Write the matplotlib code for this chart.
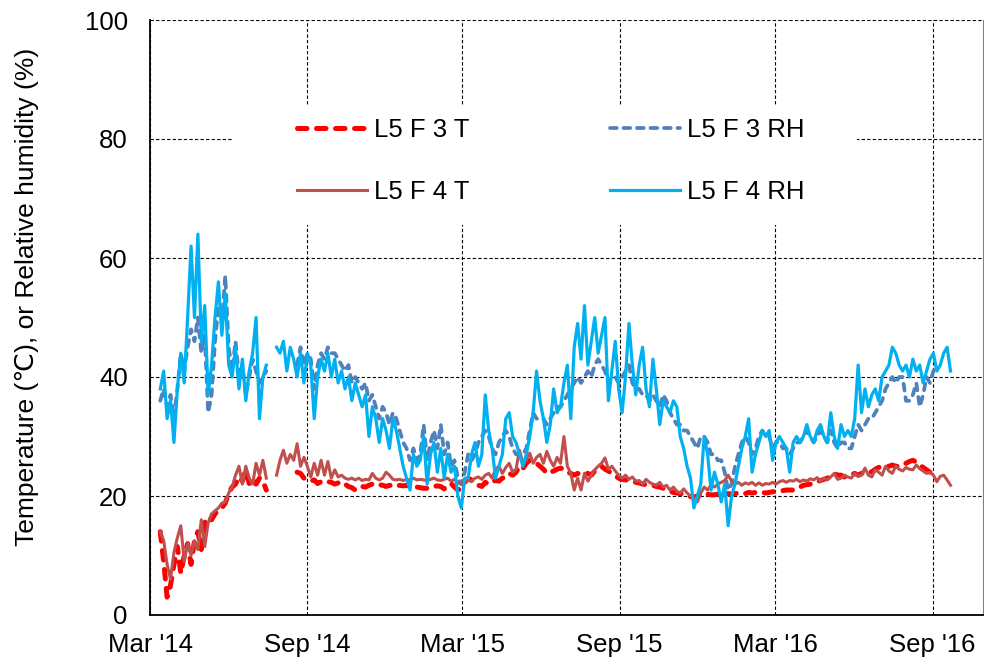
import numpy as np
import pandas as pd
import matplotlib
matplotlib.use('Agg')
import matplotlib.pyplot as plt
import matplotlib.dates as mdates
from matplotlib.patches import Rectangle

plt.rcParams['font.family'] = ['Liberation Sans', 'DejaVu Sans']

nan = np.nan
start = '2014-03-13'   # readings every 4 days

f3_t = [14.0, 9.0, 3.0, 5.0, 8.5, 11.5, 7.0, 10.0, 12.0, 8.5,
        12.5, 14.0, 11.0, 15.5, 16.5, 16.0, 17.0, 17.6, 18.0, 18.8,
        20.5, 21.5, 22.0, 23.2, 22.5, 24.4, 22.1, 23.0, 22.0, 23.0,
        22.5, 21.0, nan, nan, nan, nan, nan, nan, nan, nan,
        24.0, 23.8, 23.0, 22.8, 22.5, 22.7, 22.1, 22.4, 22.2, 22.4,
        22.3, 22.0, 22.2, 21.8, 22.0, 21.6, 21.4, 21.0, 21.2, 21.6,
        21.5, 21.8, 22.0, 22.1, 21.9, 21.8, 21.6, 21.8, 21.7, 21.6,
        21.8, 21.7, 21.8, 21.6, 21.8, 21.5, 21.4, 21.3, 21.3, 21.5,
        21.6, 21.7, 21.6, 21.2, 21.8, 22.1, 21.5, 21.0, 21.3, 22.3,
        23.0, 22.7, 22.5, 21.8, 21.6, 22.3, 22.0, 22.4, 22.6, 22.5,
        23.0, 23.2, 23.8, 23.5, 24.0, 25.0, 24.6, 25.5, 26.0, 25.8,
        25.5, 25.0, 24.5, 23.8, 24.0, 24.2, 24.5, 24.7, 24.5, 24.0,
        23.8, 23.5, 23.8, 23.5, 23.6, 23.8, 23.5, 24.2, 24.8, 25.0,
        24.5, 24.2, 23.8, 23.4, 23.0, 22.8, 22.7, 22.6, 22.5, 22.3,
        22.2, 22.0, 21.9, 21.8, 21.8, 21.6, 21.5, 21.3, 21.0, 20.8,
        20.6, 20.5, 20.4, 20.3, 20.1, 19.9, 19.8, 20.0, 20.2, 20.5,
        20.3, 20.2, 20.2, 20.3, 20.2, 20.3, 20.4, 20.3, 20.4, 20.5,
        20.5, 20.4, 20.6, 20.5, 20.6, 20.5, 20.6, 20.5, 20.6, 20.7,
        20.8, 20.8, 20.9, 21.0, 21.0, 21.0, 21.2, 21.5, 21.8, 21.9,
        22.0, 22.2, 22.4, 22.6, 22.8, 23.0, 23.2, 23.8, 23.5, 23.5,
        23.2, 23.4, 23.6, 23.8, 23.5, 23.8, 24.0, 24.2, 24.0, 24.5,
        24.8, 25.0, 24.8, 25.0, 25.2, 25.0, 25.0, 25.3, 25.5, 25.8,
        26.0, 25.7, 25.2, 24.8, 24.4, 24.0, 23.8, nan, nan, nan,
        nan, nan]

f3_rh = [36, 38, 35, 37, 33, 38, 44, 41, 45, 48,
         46, 50, 44, 47, 34, 37, 46, 52, 49, 57,
         45, 41, 46, 40, 42, 37, 40, 43, 41, 39,
         40, 41, nan, nan, nan, nan, nan, nan, nan, nan,
         42, 45, 42, 44, 43, 38, 42, 44, 43, 45,
         44, 44, 43, 42, 41, 42, 39, 40, 39, 38,
         39, 36, 37, 35, 33, 35, 34, 32, 34, 33,
         31, 29, 28, 26, 28, 26, 27, 32, 26, 29,
         31, 28, 32, 27, 29, 25, 26, 23, 22, 24,
         27, 26, 27, 29, 30, 31, 30, 28, 27, 29,
         30, 31, 30, 28, 27, 27, 27, 28, 31, 34,
         33, 33, 33, 32, 33, 34, 35, 35, 36, 37,
         38, 39, 40, 39, 40, 41, 40, 42, 43, 42,
         41, 39, 40, 40, 39, 40, 41, 42, 39, 38,
         38, 37, 37, 36, 37, 36, 35, 37, 36, 34,
         33, 32, 32, 31, 31, 30, 29, 28, 30, 30,
         29, 27, 27, 26, 26, 24, 21, 22, 25, 27,
         29, 30, 29, 27, 28, 30, 31, 30, 30, 28,
         29, 29, 28, 28, 27, 28, 29, 29, 30, 31,
         30, 29, 30, 31, 30, 29, 31, 29, 28, 29,
         29, 28, 28, 30, 32, 31, 32, 33, 33, 34,
         35, 36, 38, 39, 40, 39, 40, 40, 36, 36,
         37, 39, 35, 37, 40, 39, 41, 42, nan, nan,
         nan, nan]

f4_t = [14.0, 12.5, 8.5, 6.0, 10.5, 13.0, 15.0, 9.0, 12.0, 10.0,
        12.5, 11.0, 16.0, 11.5, 15.5, 17.0, 17.5, 18.0, 18.8, 19.0,
        20.5, 21.5, 23.5, 25.0, 22.0, 25.0, 23.0, 22.0, 25.5, 23.5,
        26.0, 23.0, nan, nan, 23.5, 26.0, 27.7, 25.5, 27.0, 26.0,
        28.8, 25.0, 26.5, 25.0, 23.2, 25.5, 23.5, 26.0, 23.5, 25.8,
        23.0, 24.4, 23.2, 23.5, 23.0, 22.8, 23.0, 22.7, 23.0, 22.6,
        22.8, 22.7, 23.8, 23.0, 22.7, 23.0, 24.0, 23.5, 22.8, 22.7,
        22.8, 22.6, 22.8, 22.7, 23.0, 22.7, 22.8, 22.7, 22.6, 22.8,
        23.0, 22.7, 22.6, 22.8, 23.0, 22.5, 22.8, 22.2, 22.0, 22.5,
        22.7, 22.4, 23.0, 23.2, 22.8, 23.5, 23.8, 23.0, 24.5, 25.0,
        23.8, 24.8, 25.5, 24.0, 24.5, 27.7, 25.5, 26.0, 27.2, 25.5,
        26.5, 27.0, 25.5, 27.5, 26.0, 25.0, 26.5, 25.5, 30.0, 25.0,
        23.8, 21.0, 23.0, 21.0, 23.8, 22.5, 23.5, 24.4, 25.0, 25.5,
        26.4, 24.5, 25.0, 24.2, 23.5, 23.0, 23.5, 22.8, 23.2, 22.5,
        22.6, 22.0, 22.8, 22.3, 22.0, 21.8, 22.3, 21.5, 21.8, 21.0,
        21.5, 20.8, 20.5, 21.2, 20.5, 20.0, 19.5, 19.0, 20.5, 21.5,
        21.0, 21.8, 21.5, 22.0, 22.3, 22.6, 23.5, 22.5, 22.0, 22.3,
        21.8, 22.2, 22.0, 22.3, 21.8, 22.2, 21.8, 22.1, 22.0, 22.3,
        22.0, 22.4, 22.6, 22.3, 22.6, 22.5, 22.8, 22.4, 22.7, 22.5,
        22.9, 22.7, 23.1, 22.5, 23.0, 22.7, 23.2, 23.8, 22.8, 23.0,
        23.5, 23.2, 23.0, 23.8, 23.3, 23.5, 24.7, 23.5, 23.2, 24.4,
        24.0, 23.5, 25.0, 24.2, 23.8, 25.0, 24.5, 24.2, 24.8, 24.5,
        24.4, 25.2, 24.6, 24.2, 23.8, 24.0, 23.5, 22.4, 23.3, 23.5,
        22.7, 21.8]

f4_rh = [38, 41, 33, 36, 29, 38, 44, 39, 50, 62,
         50, 64, 46, 52, 37, 42, 50, 56, 47, 54,
         42, 40, 45, 38, 43, 36, 41, 44, 50, 33,
         40, 42, nan, nan, 45, 44, 46, 41, 45, 43,
         40, 44, 39, 44, 42, 33, 40, 43, 41, 44,
         40, 43, 39, 41, 38, 40, 36, 39, 37, 35,
         37, 30, 35, 33, 29, 33, 31, 28, 33, 31,
         28, 25, 23, 21, 27, 25, 26, 30, 22, 27,
         29, 24, 28, 23, 27, 24, 25, 20, 18, 23,
         23, 27, 29, 25, 27, 37, 31, 28, 23, 25,
         27, 33, 34, 30, 29, 27, 25, 27, 30, 34,
         41, 36, 33, 29, 32, 38, 34, 35, 39, 42,
         33, 45, 49, 43, 52, 42, 46, 50, 44, 47,
         50, 36, 41, 46, 38, 34, 40, 49, 42, 37,
         42, 45, 38, 35, 43, 38, 32, 36, 35, 34,
         36, 35, 30, 28, 25, 23, 18, 20, 22, 30,
         27, 21, 24, 22, 19, 22, 15, 20, 22, 25,
         28, 30, 33, 24, 27, 29, 31, 30, 31, 26,
         29, 30, 29, 28, 24, 29, 30, 29, 30, 32,
         30, 29, 31, 32, 30, 29, 34, 30, 28, 32,
         30, 31, 30, 33, 42, 34, 38, 35, 37, 38,
         36, 40, 41, 42, 45, 44, 42, 41, 42, 40,
         43, 41, 42, 39, 41, 43, 44, 41, 42, 44,
         45, 41]

dates = pd.date_range(start, periods=len(f4_rh), freq='4D')

fig = plt.figure(figsize=(9.84, 6.64), dpi=100)
ax = fig.add_axes([150/984, 49/664, 833/984, 595/664])

l1, = ax.plot(dates, f3_t, color='#FF0000', lw=3.6, ls=(0, (1.9, 1.9)),
              dash_capstyle='round', label='L5 F 3 T', zorder=2)
l2, = ax.plot(dates, f3_rh, color='#4F81BD', lw=2.7, ls=(0, (1.8, 1.8)),
              dash_capstyle='round', label='L5 F 3 RH', zorder=3)
l3, = ax.plot(dates, f4_t, color='#C0504D', lw=2.2, label='L5 F 4 T', zorder=4)
l4, = ax.plot(dates, f4_rh, color='#00B0F0', lw=2.3, label='L5 F 4 RH', zorder=5)

ax.set_xlim(pd.Timestamp('2014-03-01'), pd.Timestamp('2016-10-30'))
ax.set_ylim(0, 100)
ax.set_yticks([0, 20, 40, 60, 80, 100])
ax.xaxis.set_major_locator(mdates.MonthLocator(bymonth=[3, 9]))
ax.xaxis.set_major_formatter(mdates.DateFormatter("%b '%y"))
ax.tick_params(length=0, labelsize=18.5)
ax.tick_params(axis='y', pad=16)
ax.tick_params(axis='x', pad=13)

ax.set_axisbelow(True)
ax.grid(True, color='black', ls=(0, (3, 2)), lw=0.8)
ax.spines['top'].set_visible(False)
ax.spines['right'].set_color('#808080')
ax.spines['right'].set_linewidth(0.8)
ax.spines['left'].set_linewidth(1.3)
ax.spines['bottom'].set_linewidth(1.3)

ax.set_ylabel('Temperature (\u2103), or Relative humidity (%)', fontsize=19)
ax.yaxis.set_label_coords(-0.133, 0.534)

# white legend area covering the grid
ax.add_patch(Rectangle((0.0996, 0.655), 0.749, 0.202, transform=ax.transAxes,
                       facecolor='white', edgecolor='none', zorder=1))
ax.legend(handles=[l1, l3, l2, l4], ncol=2, loc='center',
          bbox_to_anchor=(0.481, 0.763), frameon=False, fontsize=18.5,
          handlelength=2.72, handletextpad=0.27, columnspacing=5.45,
          labelspacing=1.45)

plt.savefig('out.png', dpi=100)
